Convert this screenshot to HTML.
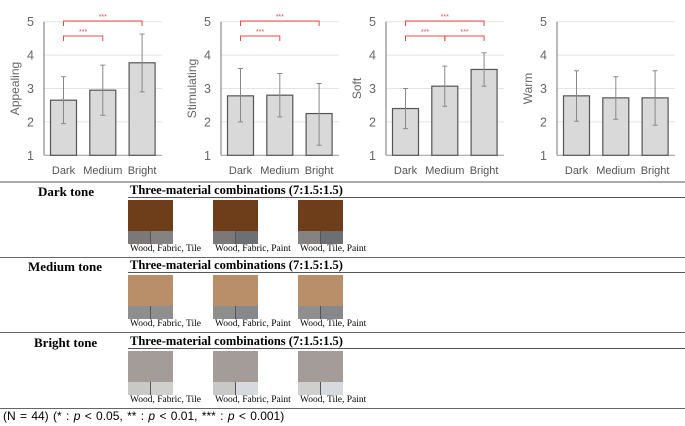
<!DOCTYPE html>
<html><head><meta charset="utf-8"><style>
body{margin:0;background:#fff;width:685px;height:426px;overflow:hidden;position:relative;font-family:"Liberation Sans",sans-serif}
.abs{position:absolute}
.tone{position:absolute;font-family:"Liberation Serif",serif;font-weight:bold;font-size:13px;color:#000}
.hdr{position:absolute;left:130px;font-family:"Liberation Serif",serif;font-weight:bold;font-size:12.5px;color:#000}
.ul{position:absolute;left:128px;right:0;height:1px;background:#555}
.sep{position:absolute;left:0;right:0;height:1px;background:#666}
.cap{position:absolute;font-family:"Liberation Serif",serif;font-size:9.5px;color:#000;white-space:nowrap}
.sw{position:absolute;width:45px;height:44px}
.sw div{position:absolute}
</style></head><body>
<svg id="charts" class="abs" style="left:0;top:0" width="685" height="180"></svg>
<div class="abs" style="left:0;right:0;top:181px;height:2px;background:#aaa"></div>
<div id="table"></div>
<div class="abs" style="left:3px;top:409px;font-size:12px;color:#000;word-spacing:1px">(N = 44) (* : <i>p</i> &lt; 0.05, ** : <i>p</i> &lt; 0.01, *** : <i>p</i> &lt; 0.001)</div>
<script>
const categories=["Dark","Medium","Bright"];
const titles=["Appealing","Stimulating","Soft","Warm"];
const means=[[2.65,2.95,3.77],[2.78,2.8,2.25],[2.4,3.07,3.57],[2.78,2.72,2.72]];
const errLow=[[1.95,2.2,2.9],[2.0,2.15,1.3],[1.8,2.47,3.07],[2.02,2.08,1.9]];
const errHigh=[[3.35,3.7,4.63],[3.6,3.45,3.15],[3.0,3.67,4.07],[3.53,3.35,3.53]];
const yTicks=[1,2,3,4,5];
const axisX=[44,221,386,557];
const NS="http://www.w3.org/2000/svg";
const svg=document.getElementById('charts');
function mk(tag,attrs,parent){const e=document.createElementNS(NS,tag);for(const k in attrs)e.setAttribute(k,attrs[k]);(parent||svg).appendChild(e);return e;}
const yS=v=>155.3-(v-1)*33.4;
const xS=(p,i)=>axisX[p]+19.5+i*39.3;
function bracket(p,a,b,y,label){
  const g=mk('g',{});
  
  
  const x1=xS(p,a),x2=xS(p,b);
  mk('path',{d:`M${x1},${y+5}V${y}H${x2}V${y+5}`,stroke:'#f04848','stroke-width':1,fill:'none'},g);
  const t=mk('text',{x:(x1+x2)/2,y:y-2,'text-anchor':'middle','font-size':7,fill:'#f04848'},g);t.textContent=label;
}
titles.forEach((title,p)=>{
  const ax=axisX[p];
  const g=mk('g',{});
  
  
  yTicks.forEach(v=>{
    if(v>1){mk('line',{x1:ax,x2:ax+118,y1:yS(v),y2:yS(v),stroke:'#e4e4e4','stroke-width':1},g);}
    const t=mk('text',{x:ax-10,y:yS(v)+4.5,'text-anchor':'end','font-size':12.5,fill:'#666'},g);
    
    
    t.textContent=v;
  });
  mk('line',{x1:ax,x2:ax,y1:yS(5),y2:yS(1),stroke:'#888','stroke-width':1.2},g);
  mk('line',{x1:ax,x2:ax+118,y1:yS(1),y2:yS(1),stroke:'#999','stroke-width':1},g);
  const yt=mk('text',{transform:`translate(${ax-25},${yS(3)}) rotate(-90)`,'text-anchor':'middle','font-size':12,fill:'#666'},g);
  
  
  yt.textContent=title;
  categories.forEach((c,i)=>{
    const cx=xS(p,i);
    const r=mk('rect',{x:cx-13,y:yS(means[p][i]),width:26,height:yS(1)-yS(means[p][i]),fill:'#d9d9d9',stroke:'#555','stroke-width':1.2},g);
    
    
    const e=mk('path',{d:`M${cx},${yS(errHigh[p][i])}V${yS(errLow[p][i])}M${cx-2.5},${yS(errHigh[p][i])}h5M${cx-2.5},${yS(errLow[p][i])}h5`,stroke:'#888','stroke-width':1,fill:'none'},g);
    
    
    const t=mk('text',{x:cx,y:174,'text-anchor':'middle','font-size':11,fill:'#555'},g);
    
    
    t.textContent=c;
  });
});
bracket(0,0,2,21,'***');bracket(0,0,1,36,'***');
bracket(1,0,2,21,'***');bracket(1,0,1,36,'***');
bracket(2,0,2,21,'***');bracket(2,0,1,36,'***');bracket(2,1,2,36,'***');

const tones=["Dark tone","Medium tone","Bright tone"];
const combos=["Wood, Fabric, Tile","Wood, Fabric, Paint","Wood, Tile, Paint"];
const woodCol=["#6e3d1a","#b88f69","#a39c98"];
const fabricCol=["#7b7877","#8e8e8c","#c8c8c6"];
const tileCol=["#858381","#8f8f8f","#cfcfcd"];
const paintCol=["#6e6f73","#87888c","#d6d9dd"];
const tb=document.getElementById('table');
const rowTop=[183,258,334];
tones.forEach((tn,r)=>{
  const y0=rowTop[r];
  let d=document.createElement('div');d.className='tone';d.style.left=(r==0?38:r==1?28:34)+'px';d.style.top=(y0+1)+'px';d.textContent=tn;
  
  
  tb.appendChild(d);
  d=document.createElement('div');d.className='hdr';d.style.top=(y0-0.5)+'px';d.textContent='Three-material combinations (7:1.5:1.5)';
  
  
  tb.appendChild(d);
  d=document.createElement('div');d.className='ul';d.style.top=(y0+14)+'px';tb.appendChild(d);
  [128,213,298].forEach((x,k)=>{
    const s=document.createElement('div');s.className='sw';s.style.left=x+'px';s.style.top=(y0+17)+'px';
    
    
    const b1=k==2?tileCol[r]:fabricCol[r], b2=k==0?tileCol[r]:paintCol[r];
    s.innerHTML=`<div style="left:0;top:0;width:45px;height:31px;background:${woodCol[r]}"></div><div style="left:0;top:31px;width:22px;height:13px;background:${b1}"></div><div style="left:23px;top:31px;width:22px;height:13px;background:${b2}"></div><div style="left:22px;top:31px;width:1px;height:13px;background:#555"></div>`;
    tb.appendChild(s);
    const c=document.createElement('div');c.className='cap';c.style.left=(x+2)+'px';c.style.top=(y0+61)+'px';c.textContent=combos[k];
    
    
    tb.appendChild(c);
  });
  d=document.createElement('div');d.className='sep';d.style.top=(y0+74)+'px';tb.appendChild(d);
});
</script>
</body></html>
